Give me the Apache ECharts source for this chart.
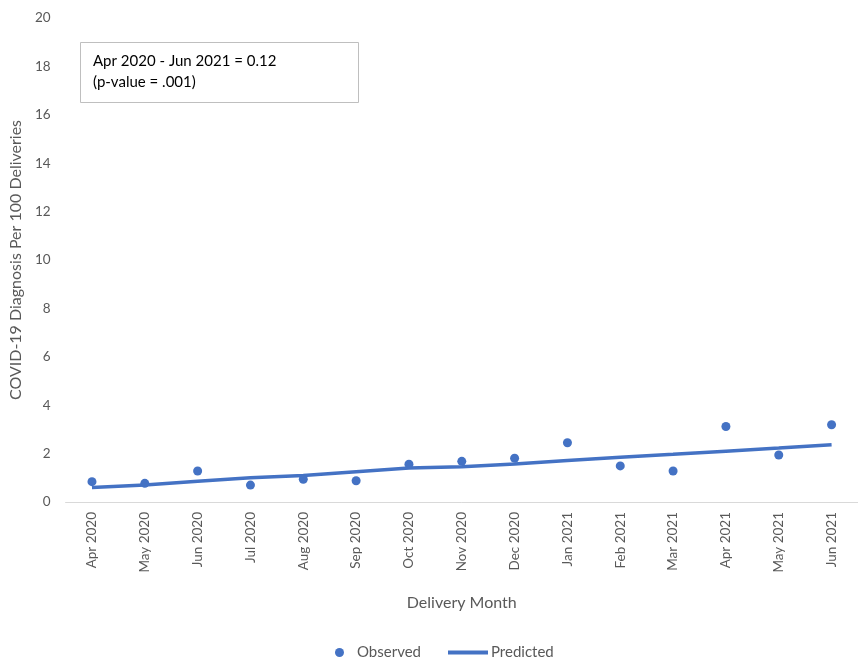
<!DOCTYPE html>
<html>
<head>
<meta charset="utf-8">
<script src="https://cdn.jsdelivr.net/npm/echarts@6/dist/echarts.min.js"></script>
<style>html,body{margin:0;padding:0;background:#fff}#c{width:858px;height:660px}</style>
</head>
<body>
<div id="c"></div>
<script>
const months = ['Apr 2020','May 2020','Jun 2020','Jul 2020','Aug 2020','Sep 2020','Oct 2020','Nov 2020','Dec 2020','Jan 2021','Feb 2021','Mar 2021','Apr 2021','May 2021','Jun 2021'];
const observed = [0.84,0.77,1.28,0.70,0.94,0.88,1.56,1.68,1.81,2.45,1.49,1.28,3.12,1.94,3.19];
const predicted = [0.60,0.70,0.86,1.00,1.10,1.25,1.40,1.46,1.57,1.71,1.85,1.97,2.10,2.23,2.37];
const yTicks = [0,2,4,6,8,10,12,14,16,18,20];
const annotation = ['Apr 2020 - Jun 2021 = 0.12','(p-value = .001)'];

const FONT = 'Lato, "Liberation Sans", sans-serif';
const GREY = '#595959';
const BLUE = '#4472C4';

const chart = echarts.init(document.getElementById('c'));
chart.setOption({
  animation: false,
  textStyle: { fontFamily: FONT },
  grid: { left: 65, right: -4, top: 18, bottom: 158 },
  xAxis: {
    type: 'category',
    data: months,
    boundaryGap: true,
    axisLine: { lineStyle: { color: '#d9d9d9', width: 1 } },
    axisTick: { show: false },
    axisLabel: { rotate: 90, color: GREY, fontSize: 13.5, fontFamily: FONT, margin: 10, interval: 0 },
    name: 'Delivery Month',
    nameLocation: 'middle',
    nameGap: 93,
    nameTextStyle: { color: GREY, fontSize: 16, fontFamily: FONT }
  },
  yAxis: {
    type: 'value',
    min: yTicks[0],
    max: yTicks[yTicks.length - 1],
    interval: 2,
    splitLine: { show: false },
    axisLine: { show: false },
    axisTick: { show: false },
    axisLabel: { color: GREY, fontSize: 13.5, fontFamily: FONT, margin: 15 },
    name: 'COVID-19 Diagnosis Per 100 Deliveries',
    nameLocation: 'middle',
    nameGap: 40,
    nameTextStyle: { color: GREY, fontSize: 16, fontFamily: FONT }
  },
  legend: [
    {
      data: [{ name: 'Observed', icon: 'circle' }],
      top: 640, left: 330, itemWidth: 25, itemHeight: 9, itemGap: 5,
      textStyle: { color: GREY, fontSize: 15, fontFamily: FONT }
    },
    {
      data: [{ name: 'Predicted', icon: 'rect' }],
      top: 640, left: 443, itemWidth: 40, itemHeight: 4, itemGap: 5,
      textStyle: { color: GREY, fontSize: 15, fontFamily: FONT, padding: [0, 0, 0, -2] }
    }
  ],
  graphic: [
    {
      type: 'rect',
      shape: { x: 80.5, y: 42.5, width: 278, height: 60 },
      style: { fill: '#fff', stroke: '#bfbfbf', lineWidth: 1 },
      z: 10
    },
    {
      type: 'text',
      x: 93, y: 51,
      style: { text: annotation.join('\n'), fill: '#000', font: '15px ' + FONT, lineHeight: 21 },
      z: 11
    }
  ],
  series: [
    {
      name: 'Predicted',
      type: 'line',
      data: predicted,
      showSymbol: false,
      symbol: 'none',
      lineStyle: { color: BLUE, width: 3.5 },
      itemStyle: { color: BLUE },
      z: 2
    },
    {
      name: 'Observed',
      type: 'scatter',
      data: observed,
      symbol: 'circle',
      symbolSize: 9,
      itemStyle: { color: BLUE, opacity: 1 },
      z: 3
    }
  ]
});
</script>
</body>
</html>
